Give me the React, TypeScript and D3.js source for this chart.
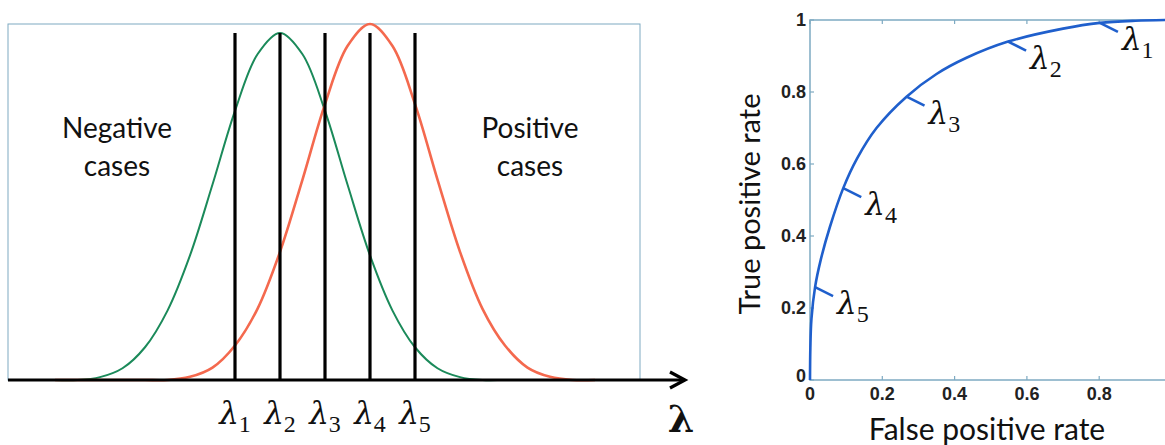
import React from "react";
import * as d3 from "d3";

// ---- Left panel data (threshold axis units) ----
const densityX = [-3, -2.5, -2, -1.5, -1, -0.5, 0, 0.5, 1, 1.5, 2, 2.5, 3, 3.5, 4, 4.5, 5, 5.5, 6, 6.5, 7, 7.5, 8, 8.5, 9];
const negativeDensity = [0, 0, 0.008, 0.033, 0.092, 0.195, 0.35, 0.549, 0.756, 0.915, 0.975, 0.915, 0.756, 0.549, 0.35, 0.195, 0.092, 0.033, 0.008, 0, 0, 0, 0, 0, 0];
const positiveDensity = [0, 0, 0, 0, 0, 0, 0.009, 0.035, 0.097, 0.2, 0.36, 0.563, 0.775, 0.938, 1.0, 0.938, 0.775, 0.563, 0.36, 0.2, 0.097, 0.035, 0.009, 0, 0];
const thresholds = [1, 2, 3, 4, 5];
const thresholdTop = 0.975;
const thresholdNames = ["1", "2", "3", "4", "5"];

// ---- Right panel data (ROC) ----
const rocFpr = [0, 0.001, 0.004, 0.014, 0.03, 0.055, 0.092, 0.13, 0.184, 0.267, 0.35, 0.433, 0.548, 0.7, 0.802, 0.9, 1.0];
const rocTpr = [0, 0.09, 0.17, 0.258, 0.335, 0.425, 0.533, 0.615, 0.7, 0.787, 0.85, 0.895, 0.94, 0.976, 0.992, 0.998, 1.0];
const markFpr = [0.802, 0.548, 0.267, 0.092, 0.014];
const markTpr = [0.992, 0.94, 0.787, 0.533, 0.258];
const rocTicks = [0, 0.2, 0.4, 0.6, 0.8, 1];
const rocTickLabels = ["0", "0.2", "0.4", "0.6", "0.8", "1"];

const GREEN = "#1b8a5a";
const RED = "#f4694e";
const BLUE = "#1f5fcc";
const FRAME = "#7eaac2";

export default function App() {
  const xL = d3.scaleLinear().domain([-4, 11]).range([10, 685]);
  const yL = d3.scaleLinear().domain([0, 1]).range([380, 24]);
  const lineL = d3
    .line<number>()
    .x((_, i) => xL(densityX[i]))
    .y((d) => yL(d))
    .curve(d3.curveCatmullRom.alpha(0.5));

  const xR = d3.scaleLinear().domain([0, 1]).range([810, 1171.5]);
  const yR = d3.scaleLinear().domain([0, 1]).range([380, 20]);
  const lineR = d3
    .line<number>()
    .x((_, i) => xR(rocFpr[i]))
    .y((d) => yR(d))
    .curve(d3.curveCatmullRom.alpha(0.5));

  const lam = "DejaVu Serif";
  const dig = "Liberation Serif";
  const sans = "Lato";
  const y0 = yL(0);

  return (
    <svg
      width={1165}
      height={445}
      style={{ position: "absolute", left: 0, top: 0, background: "#fff" }}
    >
      {/* Left frame */}
      <rect
        x={xL(-4) - 2}
        y={yL(1)}
        width={xL(10) - xL(-4) + 2}
        height={y0 - yL(1)}
        fill="none"
        stroke={FRAME}
        strokeWidth={1}
      />
      {/* density curves */}
      <path d={lineL(negativeDensity) || ""} fill="none" stroke={GREEN} strokeWidth={2} />
      <path d={lineL(positiveDensity) || ""} fill="none" stroke={RED} strokeWidth={2.6} />
      {/* threshold lines */}
      {thresholds.map((t, i) => (
        <line
          key={"t" + i}
          x1={xL(t)}
          x2={xL(t)}
          y1={yL(0)}
          y2={yL(thresholdTop)}
          stroke="#000"
          strokeWidth={3.2}
        />
      ))}
      {/* axis with arrow */}
      <line x1={xL(-4) - 2} x2={xL(11)} y1={y0} y2={y0} stroke="#000" strokeWidth={3.2} />
      <polyline
        points={`${xL(11) - 15},${y0 - 8} ${xL(11)},${y0} ${xL(11) - 15},${y0 + 8}`}
        fill="none"
        stroke="#000"
        strokeWidth={3.2}
        strokeLinejoin="miter"
      />
      {/* threshold labels */}
      {thresholds.map((t, i) => (
        <text
          key={"tl" + i}
          x={xL(t)}
          y={424}
          textAnchor="middle"
          fontFamily={lam}
          fontSize={31}
          fill="#111"
        >
          <tspan fontStyle="italic">λ</tspan>
          <tspan fontFamily={dig} fontSize={24} dy={8}>
            {thresholdNames[i]}
          </tspan>
        </text>
      ))}
      <text x={681} y={432} textAnchor="middle" fontFamily={lam} fontWeight="bold" fontSize={38} fill="#111">
        λ
      </text>
      {/* region labels */}
      <text x={117} y={138} textAnchor="middle" fontFamily={sans} fontSize={28} fill="#111">
        Negative
      </text>
      <text x={117} y={176} textAnchor="middle" fontFamily={sans} fontSize={28} fill="#111">
        cases
      </text>
      <text x={530} y={138} textAnchor="middle" fontFamily={sans} fontSize={28} fill="#111">
        Positive
      </text>
      <text x={530} y={176} textAnchor="middle" fontFamily={sans} fontSize={28} fill="#111">
        cases
      </text>

      {/* Right panel frame */}
      <rect
        x={xR(0)}
        y={yR(1)}
        width={xR(1) - xR(0)}
        height={yR(0) - yR(1)}
        fill="none"
        stroke={FRAME}
        strokeWidth={1.5}
      />
      {rocTicks.map((t, i) => (
        <g key={"rt" + i}>
          <line x1={xR(t)} x2={xR(t)} y1={yR(0)} y2={yR(0) - 4} stroke={FRAME} strokeWidth={1.2} />
          <line x1={xR(t)} x2={xR(t)} y1={yR(1)} y2={yR(1) + 4} stroke={FRAME} strokeWidth={1.2} />
          <line x1={xR(0)} x2={xR(0) + 4} y1={yR(t)} y2={yR(t)} stroke={FRAME} strokeWidth={1.2} />
          {t < 1 && (
            <text
              x={xR(t)}
              y={400}
              textAnchor="middle"
              fontFamily="Liberation Sans"
              fontWeight="bold"
              fontSize={18}
              fill="#222"
            >
              {rocTickLabels[i]}
            </text>
          )}
          <text
            x={806}
            y={yR(t) + (t === 0 ? 2 : 6)}
            textAnchor="end"
            fontFamily="Liberation Sans"
            fontWeight="bold"
            fontSize={18}
            fill="#222"
          >
            {rocTickLabels[i]}
          </text>
        </g>
      ))}
      {/* ROC curve */}
      <path d={lineR(rocTpr) || ""} fill="none" stroke={BLUE} strokeWidth={2.6} />
      {markFpr.map((f, i) => {
        const px = xR(f);
        const py = yR(markTpr[i]);
        return (
          <g key={"m" + i}>
            <line x1={px} y1={py} x2={px + 18} y2={py + 9} stroke={BLUE} strokeWidth={2.6} />
            <text x={px + 22} y={py + 27} fontFamily={lam} fontSize={31} fill="#111">
              <tspan fontStyle="italic">λ</tspan>
              <tspan fontFamily={dig} fontSize={24} dy={8}>
                {thresholdNames[i]}
              </tspan>
            </text>
          </g>
        );
      })}
      {/* axis titles */}
      <text
        transform="translate(760,204) rotate(-90)"
        textAnchor="middle"
        fontFamily={sans}
        fontSize={29}
        fill="#111"
      >
        True positive rate
      </text>
      <text x={987} y={440} textAnchor="middle" fontFamily={sans} fontSize={30} fill="#111">
        False positive rate
      </text>
    </svg>
  );
}
